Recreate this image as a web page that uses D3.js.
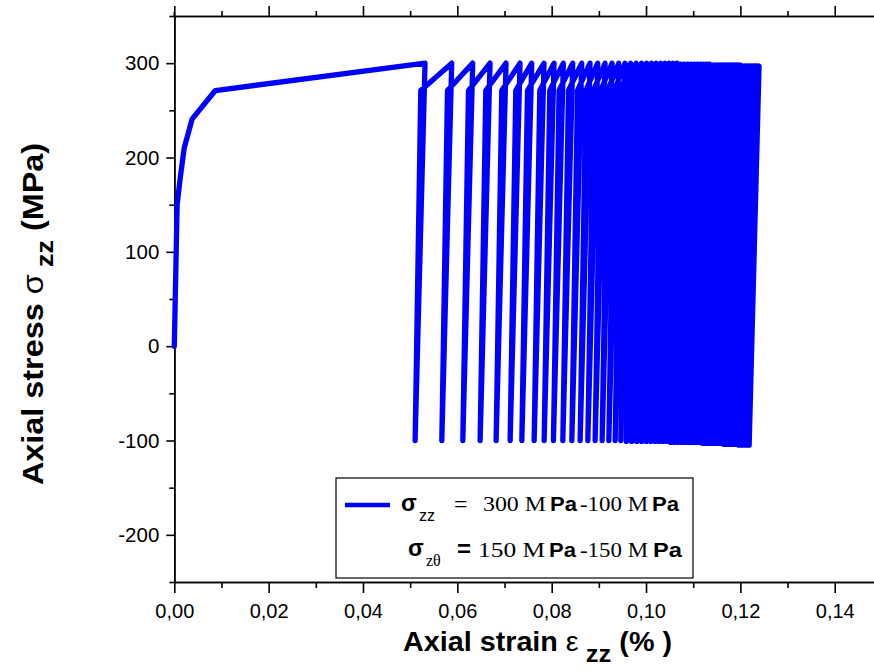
<!DOCTYPE html>
<html><head><meta charset="utf-8">
<script src="https://cdn.jsdelivr.net/npm/d3@7"></script>
<style>body{margin:0;background:#fff}svg{display:block}</style>
</head><body>
<svg id="c" width="874" height="671"></svg>
<script>
// monotonic loading branch
const loadStrain = [0, 0.0006, 0.0013, 0.0021, 0.0038, 0.0087];
const loadStress = [0, 150, 180, 210, 241, 271];
// ratcheting cycles: peak strain of each cycle (%)
const peakStrain = [
  0.05315, 0.05881, 0.06326, 0.06693, 0.07032, 0.07329, 0.07577, 0.07838, 0.08050, 0.08247,
  0.08446, 0.08637, 0.08813, 0.08976, 0.09131, 0.09279, 0.09421, 0.09555, 0.09675,
  0.09792, 0.09904, 0.10012, 0.10116, 0.10216, 0.10311, 0.10402, 0.10489, 0.10572, 0.10652,
  0.10731, 0.10807, 0.10881, 0.10953, 0.11023, 0.11091, 0.11157, 0.11220, 0.11282, 0.11341,
  0.11399, 0.11454, 0.11507, 0.11558, 0.11606, 0.11653, 0.11697, 0.11740, 0.11780, 0.11818,
  0.11856, 0.11893, 0.11929, 0.11962, 0.11996, 0.12028, 0.12060, 0.12090, 0.12119, 0.12147,
  0.12174, 0.12200, 0.12225, 0.12249, 0.12272, 0.12293, 0.12314, 0.12336, 0.12355, 0.12396
];
const peakStress = [
  300, 300, 300, 300, 300, 300, 300, 300, 300, 300,
  300, 300, 300, 300, 300, 300, 300, 300, 300,
  300, 300, 300, 300, 300, 300, 300, 300, 300, 300,
  299, 299, 299, 299, 299, 299, 299, 299, 299, 299,
  298, 298, 298, 298, 298, 298, 298, 298, 298, 298,
  298, 298, 298, 298, 298, 297, 297, 297, 297, 297,
  297, 297, 297, 297, 297, 297, 297, 297, 297, 297
];
const valleyStress = [
  -100, -100, -100, -100, -100, -100, -100, -100, -100, -100,
  -100, -100, -100, -100, -100, -100, -100, -100, -100,
  -101, -101, -101, -101, -101, -101, -101, -101, -101, -101,
  -102, -102, -102, -102, -102, -102, -102, -102, -102, -102,
  -103, -103, -103, -103, -103, -103, -103, -103, -103, -103,
  -104, -104, -104, -104, -104, -104, -104, -104, -104, -104,
  -105, -105, -105, -105, -105, -105, -105, -105, -105, -105
];
const unloadWidth = 0.0021;   // strain recovered during elastic unloading
const kneeOffset = 0.0012;    // reload knee position after the valley
const kneeStress = 271;

const xTicks = [0, 0.02, 0.04, 0.06, 0.08, 0.10, 0.12, 0.14];
const xTickLabels = ["0,00", "0,02", "0,04", "0,06", "0,08", "0,10", "0,12", "0,14"];
const xMinor = [0.01, 0.03, 0.05, 0.07, 0.09, 0.11, 0.13];
const yTicks = [-200, -100, 0, 100, 200, 300];
const yTickLabels = ["-200", "-100", "0", "100", "200", "300"];
const yMinor = [-250, -150, -50, 50, 150, 250, 350];

const svg = d3.select("#c");
const x = d3.scaleLinear().domain([0, 0.15]).range([174.3, 881.9]);
const y = d3.scaleLinear().domain([-250, 350]).range([582, 16]);

// assemble curve
const pts = loadStrain.map((s, i) => [s, loadStress[i]]);
peakStrain.forEach((p, i) => {
  pts.push([p, peakStress[i]]);
  const v = p - unloadWidth;
  pts.push([v, valleyStress[i]]);
  if (i < peakStrain.length - 1) pts.push([v + kneeOffset, kneeStress]);
});

// axes
const axStyle = g => {
  g.selectAll("path.domain").attr("stroke", "#000").attr("stroke-width", 1.6);
  g.selectAll(".tick line").attr("stroke", "#000").attr("stroke-width", 1.6);
};
const fmtX = d => xTickLabels[xTicks.indexOf(d)];
const fmtY = d => yTickLabels[yTicks.indexOf(d)];

svg.append("g").attr("transform", `translate(0,${y(-250)})`)
  .call(d3.axisBottom(x).tickValues(xMinor).tickSize(6).tickSizeOuter(0).tickFormat(""))
  .call(axStyle);
svg.append("g").attr("transform", `translate(0,${y(-250)})`)
  .call(d3.axisBottom(x).tickValues(xTicks).tickSize(11).tickSizeOuter(0).tickPadding(11).tickFormat(fmtX))
  .call(axStyle)
  .call(g => g.selectAll("text").attr("font-family", "'Liberation Sans Narrow','Arial Narrow',Arial,sans-serif")
    .attr("font-size", 20).attr("fill", "#000"));

svg.append("g").attr("transform", `translate(0,${y(350)})`)
  .call(d3.axisTop(x).tickValues(xMinor).tickSize(5).tickSizeOuter(0).tickFormat(""))
  .call(axStyle);
svg.append("g").attr("transform", `translate(0,${y(350)})`)
  .call(d3.axisTop(x).tickValues(xTicks).tickSize(10).tickSizeOuter(0).tickFormat(""))
  .call(axStyle);

svg.append("g").attr("transform", `translate(${x(0)},0)`)
  .call(d3.axisLeft(y).tickValues(yMinor).tickSize(5).tickSizeOuter(0).tickFormat(""))
  .call(axStyle);
svg.append("g").attr("transform", `translate(${x(0)},0)`)
  .call(d3.axisLeft(y).tickValues(yTicks).tickSize(8).tickSizeOuter(0).tickPadding(7).tickFormat(fmtY))
  .call(axStyle)
  .call(g => g.selectAll("text").attr("font-family", "'Liberation Sans',Arial,sans-serif")
    .attr("font-size", 20.5).attr("fill", "#000"));
// left spine slightly overshoots the top spine
svg.append("line").attr("x1", x(0)).attr("x2", x(0)).attr("y1", 12).attr("y2", 17)
  .attr("stroke", "#000").attr("stroke-width", 1.6);

// curve
svg.append("path")
  .attr("d", d3.line().x(d => x(d[0])).y(d => y(d[1]))(pts))
  .attr("fill", "none").attr("stroke", "#0000ff").attr("stroke-width", 5.3)
  .attr("stroke-linejoin", "round").attr("stroke-linecap", "round");

// axis titles
const xt = svg.append("text").attr("x", 403).attr("y", 651)
  .attr("font-family", "'Liberation Sans',Arial,sans-serif").attr("font-size", 27)
  .attr("font-weight", "bold").attr("textLength", 269).attr("lengthAdjust", "spacingAndGlyphs");
xt.append("tspan").text("Axial strain ");
xt.append("tspan").attr("font-weight", "normal").text("ε");
xt.append("tspan").attr("font-size", 24).attr("dy", 11).text(" zz");
xt.append("tspan").attr("dy", -11).text(" (% )");

const yt = svg.append("text").attr("transform", "translate(43,485) rotate(-90)")
  .attr("font-family", "'Liberation Sans',Arial,sans-serif").attr("font-size", 29)
  .attr("font-weight", "bold").attr("textLength", 342).attr("lengthAdjust", "spacingAndGlyphs");
yt.append("tspan").text("Axial stress ");
yt.append("tspan").attr("font-weight", "normal").text("σ");
yt.append("tspan").attr("font-size", 24).attr("dy", 10).text(" zz");
yt.append("tspan").attr("dy", -10).text(" (MPa)");

// legend
const lg = svg.append("g");
lg.append("rect").attr("x", 336).attr("y", 478).attr("width", 357).attr("height", 100)
  .attr("fill", "#fff").attr("stroke", "#000").attr("stroke-width", 1.2);
lg.append("line").attr("x1", 345).attr("x2", 390).attr("y1", 505).attr("y2", 505)
  .attr("stroke", "#0000ff").attr("stroke-width", 4.6);
const sans = "'Liberation Sans',Arial,sans-serif", serif = "'Liberation Serif','Times New Roman',serif";
const piece = (t, px, py, fam, size, weight, len) => {
  const e = lg.append("text").attr("x", px).attr("y", py).attr("font-family", fam)
    .attr("font-size", size).attr("font-weight", weight).attr("fill", "#000").text(t);
  if (len) e.attr("textLength", len).attr("lengthAdjust", "spacingAndGlyphs");
};
// row 1
piece("σ", 401, 511, sans, 23, "bold");
piece("zz", 419, 521, sans, 16, "normal");
piece("=", 454, 512, serif, 24, "normal");
piece("300 M", 483, 511, serif, 21, "normal", 63);
piece("Pa", 550, 511, sans, 20, "bold", 27);
piece("-100 M", 580, 511, serif, 21, "normal", 68);
piece("Pa", 652, 511, sans, 20, "bold", 27);
// row 2
piece("σ", 408, 556, sans, 23, "bold");
piece("zθ", 426, 566, serif, 16, "normal");
piece("=", 457, 557, sans, 24, "bold");
piece("150 M", 478, 557, serif, 21, "normal", 67);
piece("Pa", 549, 557, sans, 20, "bold", 27);
piece("-150 M", 580, 557, serif, 21, "normal", 68);
piece("Pa", 653, 557, sans, 20, "bold", 29);
</script>
</body></html>
